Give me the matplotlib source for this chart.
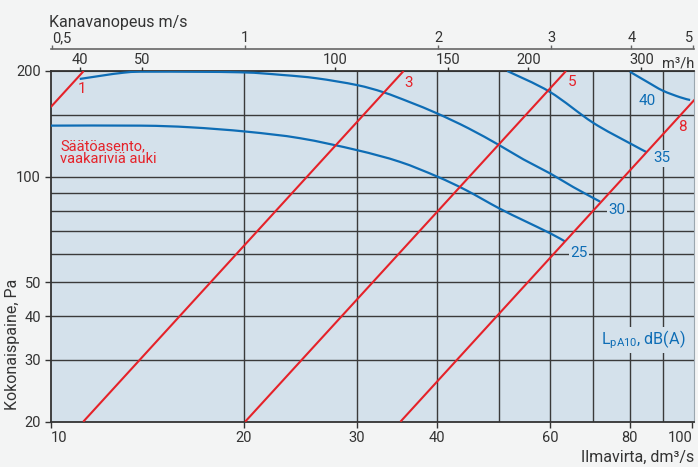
import matplotlib
matplotlib.use("Agg")
import matplotlib.pyplot as plt
import numpy as np
from matplotlib.patches import PathPatch
from matplotlib.path import Path
from matplotlib.ticker import NullLocator

plt.rcParams["font.family"] = ["Roboto", "DejaVu Sans"]
plt.rcParams["mathtext.fontset"] = "custom"
plt.rcParams["mathtext.rm"] = "Roboto"
plt.rcParams["mathtext.it"] = "Roboto:italic"

RED = "#e52229"
BLUE = "#0e6db5"
PLOT_BG = "#d4e1eb"
FIG_BG = "#f3f4f4"
INK = "#333333"
GRID = "#3a3a3a"

DUCT_AREA = 0.0201  # m2, duct dia 160 mm

# damper setting lines, flow dm3/s vs total pressure Pa
damper_names = ["1", "3", "5", "8"]
damper_q = [[10.0, 11.26], [11.24, 35.5], [20.1, 63.6], [35.1, 101.0]]
damper_p = [[157.7, 200.0], [20.0, 200.0], [20.0, 200.0], [20.0, 166.0]]

# sound level curves L_pA10, dB(A)
level_names = ["25", "30", "35", "40"]
level_q = [
    [10.0, 13.8, 16.5, 20.2, 24.5, 30.0, 35.0, 40.0, 44.4, 50.0, 54.6, 60.0, 63.4],
    [11.1, 13.0, 14.4, 19.7, 23.0, 26.0, 30.0, 33.0, 36.3, 40.0, 44.8, 50.0, 54.6,
     60.0, 65.3, 71.9],
    [51.5, 60.0, 70.0, 80.0, 85.0],
    [80.0, 85.0, 90.0, 95.8, 99.3],
]
level_p = [
    [139.7, 139.7, 138.2, 134.3, 128.6, 119.0, 110.2, 100.1, 91.5, 81.2, 75.0, 69.0, 65.3],
    [189.8, 197.8, 199.1, 198.3, 194.8, 190.6, 182.4, 174.0, 163.0, 151.5, 137.3,
     123.0, 111.9, 102.2, 93.3, 84.8],
    [200.0, 174.4, 142.6, 124.4, 117.3],
    [199.0, 186.5, 175.8, 168.3, 165.3],
]

x_ticks = [10, 20, 30, 40, 60, 80, 100]
x_grid = [20, 30, 40, 50, 60, 70, 80, 90]
y_ticks = [20, 30, 40, 50, 100, 200]
y_grid = [30, 40, 50, 60, 70, 80, 90, 100, 150]
m3h_ticks = [40, 50, 100, 150, 200, 300]
ms_ticks = [0.5, 1, 2, 3, 4, 5]
ms_labels = ["0,5", "1", "2", "3", "4", "5"]


def smooth_path(q, p):
    """Catmull-Rom through the points in log-log space, as cubic Bezier segments."""
    pts = np.column_stack([np.log10(q), np.log10(p)])
    n = len(pts)
    verts = [pts[0]]
    codes = [Path.MOVETO]
    for i in range(n - 1):
        p0 = pts[max(i - 1, 0)]
        p1 = pts[i]
        p2 = pts[i + 1]
        p3 = pts[min(i + 2, n - 1)]
        verts += [p1 + (p2 - p0) / 6, p2 - (p3 - p1) / 6, p2]
        codes += [Path.CURVE4] * 3
    return Path(10 ** np.array(verts), codes)


fig = plt.figure(figsize=(6.98, 4.67), dpi=100, facecolor=FIG_BG)
ax = fig.add_axes([0.0726, 0.097, 0.9221, 0.751], facecolor=PLOT_BG)
ax.set_xscale("log")
ax.set_yscale("log")
ax.set_xlim(10, 100.8)
ax.set_ylim(20, 200)

for q in x_grid:
    ax.axvline(q, color=GRID, lw=1.0, zorder=1)
for p in y_grid:
    ax.axhline(p, color=GRID, lw=1.0, zorder=1)

for q, p in zip(level_q, level_p):
    ax.add_patch(PathPatch(smooth_path(q, p), fill=False, edgecolor=BLUE, lw=1.6,
                           zorder=3, capstyle="butt"))
for q, p in zip(damper_q, damper_p):
    ax.plot(q, p, color=RED, lw=1.5, zorder=4, solid_capstyle="butt")

box = dict(facecolor=PLOT_BG, edgecolor="none", pad=1.0)
ax.text(11.18, 177.3, "1", color=RED, fontsize=11, ha="center", va="center")
ax.text(36.2, 184.5, "3", color=RED, fontsize=11, ha="center", va="center")
ax.text(65.1, 186.4, "5", color=RED, fontsize=11, ha="center", va="center")
ax.text(96.7, 138.7, "8", color=RED, fontsize=11, ha="center", va="center")
ax.text(10.34, 116.8, "Säätöasento,\nvaakariviä auki", color=RED, fontsize=10.5,
        ha="left", va="center", linespacing=0.92)
ax.text(85.0, 164.6, "40", color=BLUE, fontsize=11, ha="center", va="center", bbox=box, zorder=5)
ax.text(89.8, 112.7, "35", color=BLUE, fontsize=11, ha="center", va="center", bbox=box, zorder=5)
ax.text(76.3, 80.3, "30", color=BLUE, fontsize=11, ha="center", va="center", bbox=box, zorder=5)
ax.text(66.6, 60.4, "25", color=BLUE, fontsize=11, ha="center", va="center", bbox=box, zorder=5)
ax.text(72.2, 34.2, r"L$_{\mathrm{pA10}}$, dB(A)", color=BLUE, fontsize=11.6,
        ha="left", va="center", bbox=box, zorder=5)

ax.set_xticks(x_ticks, labels=[str(v) for v in x_ticks])
ax.set_yticks(y_ticks, labels=[str(v) for v in y_ticks])
ax.xaxis.set_minor_locator(NullLocator())
ax.yaxis.set_minor_locator(NullLocator())
xt = ax.get_xticklabels()
xt[0].set_horizontalalignment("left")
xt[-1].set_horizontalalignment("right")
ax.tick_params(axis="both", direction="out", length=4, width=1, color=INK,
               labelcolor=INK, labelsize=10.5, pad=3)
for side in ("left", "bottom", "top"):
    ax.spines[side].set_color(INK)
    ax.spines[side].set_linewidth(1.3)
ax.spines["right"].set_color("#9aa6ae")
ax.spines["right"].set_linewidth(0.8)

# flow in m3/h along the top edge
m3h = ax.secondary_xaxis("top", functions=(lambda q: q * 3.6, lambda m: m / 3.6))
m3h.set_xticks(m3h_ticks, labels=[str(v) for v in m3h_ticks])
m3h.xaxis.set_minor_locator(NullLocator())
m3h.tick_params(direction="out", length=2.6, width=1, color=INK, labelcolor=INK,
                labelsize=10.5, pad=0)
m3h.spines["top"].set_color(INK)
ax.text(1.0, 1.022, "m³/h", transform=ax.transAxes, ha="right", va="center",
        fontsize=10.5, color=INK)

# duct velocity scale above it
vel = ax.secondary_xaxis(1.0627, functions=(lambda q: q / 1000 / DUCT_AREA,
                                            lambda v: v * DUCT_AREA * 1000))
vel.set_xticks(ms_ticks, labels=ms_labels)
vel.xaxis.set_minor_locator(NullLocator())
vel.tick_params(direction="out", length=3, width=1, color="#666666", labelcolor=INK,
                labelsize=10.5, pad=0)
vel.spines["top"].set_color("#666666")
vel.spines["top"].set_linewidth(1.2)
vt = vel.get_xticklabels()
vt[0].set_horizontalalignment("left")
vt[-1].set_horizontalalignment("right")
ax.text(-0.002, 1.1255, "Kanavanopeus m/s", transform=ax.transAxes, ha="left",
        va="baseline", fontsize=11.5, color=INK)

ax.text(1.0, -0.1155, "Ilmavirta, dm³/s", transform=ax.transAxes, ha="right",
        va="baseline", fontsize=11.5, color=INK)
ax.text(-0.0594, 0.22, "Kokonaispaine, Pa", transform=ax.transAxes, rotation=90,
        ha="center", va="center", fontsize=11.5, color=INK)

fig.savefig("out.png", dpi=100, facecolor=FIG_BG)
